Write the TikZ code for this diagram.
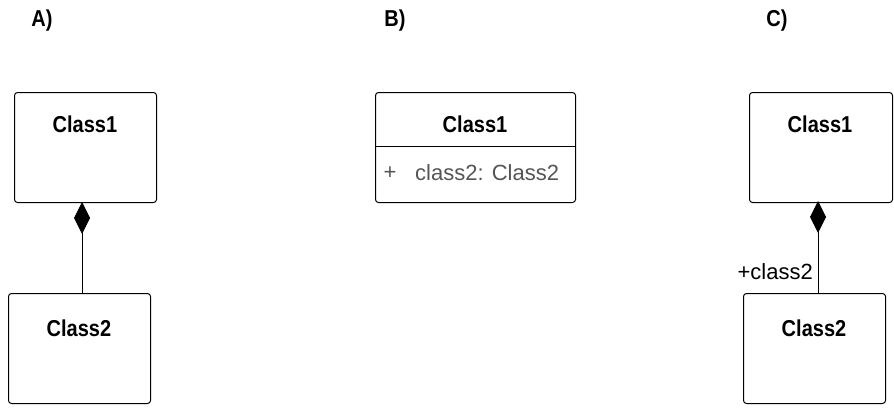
\documentclass[tikz,border=0pt]{standalone}
\usepackage{fontspec}
\setmainfont{Liberation Sans}[BoldFeatures={FakeStretch=0.87}]
\usetikzlibrary{arrows.meta}

\definecolor{attrgray}{RGB}{85,85,85}

\begin{document}
\begin{tikzpicture}[x=1pt, y=-1pt,
    classbox/.style={draw, line width=1pt, rounded corners=3pt, minimum width=142pt, minimum height=110pt, anchor=north west, inner sep=0pt},
    cname/.style={font=\fontsize{23}{25}\selectfont\bfseries},
    tag/.style={font=\fontsize{23}{25}\selectfont\bfseries},
    comp/.style={line width=1pt, {Diamond[length=32pt,width=16pt]}-}]
    \useasboundingbox (0,0) rectangle (894,412);

    % case labels
    \node[tag] (tagA) at (42,21) {A)};
    \node[tag] (tagB) at (395,21) {B)};
    \node[tag] (tagC) at (777,21) {C)};

    % A) composition between the two classes
    \node[classbox] (A1) at (14,92) {};
    \node[cname] (A1name) at (85,124) {Class1};
    \node[classbox] (A2) at (8,293) {};
    \node[cname] (A2name) at (79,328) {Class2};
    \coordinate (A1d) at (82,202);
    \coordinate (A2t) at (82,293);
    \draw[comp] (A1d) -- (A2t);

    % B) Class1 holds the part as an attribute
    \node[classbox, minimum width=200pt] (B1) at (375,92) {};
    \node[cname] (B1name) at (475,124) {Class1};
    \coordinate (Bsepl) at (375,146);
    \coordinate (Bsepr) at (575,146);
    \draw[line width=1pt] (Bsepl) -- (Bsepr);
    \node[font=\fontsize{22}{24}\selectfont, text=attrgray] (Bplus) at (390,173) {+};
    \node[font=\fontsize{22}{24}\selectfont, text=attrgray, anchor=west, inner sep=0pt] (Battr) at (415,173) {class2: Class2};

    % C) composition with role name at the part end
    \node[classbox, minimum width=143pt] (C1) at (749,92) {};
    \node[cname] (C1name) at (820,124) {Class1};
    \node[classbox] (C2) at (743,293) {};
    \node[cname] (C2name) at (814,328) {Class2};
    \coordinate (C1d) at (818,201);
    \coordinate (C2t) at (818,293);
    \draw[comp] (C1d) -- (C2t);
    \node[font=\fontsize{22}{24}\selectfont, anchor=east, inner sep=0pt] (Crole) at (813,272) {+class2};

\end{tikzpicture}
\end{document}
